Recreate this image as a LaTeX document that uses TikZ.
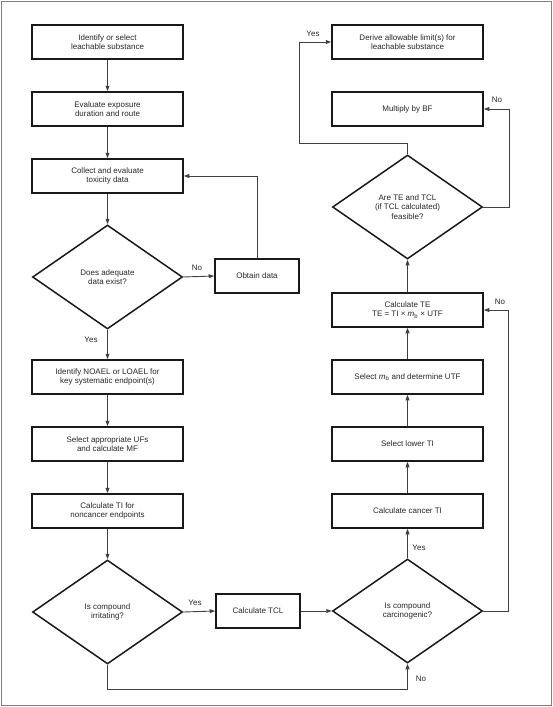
\documentclass[tikz,border=0pt]{standalone}
\usepackage{fontspec}
\setmainfont{Liberation Sans}
\usetikzlibrary{shapes.geometric,arrows.meta}
\newcommand{\mbsym}{\textit{m}\textsubscript{b}}
\begin{document}
\begin{tikzpicture}[x=1pt,y=-1pt,
  font=\fontsize{8}{9.4}\selectfont,
  stepbox/.style={draw=black!90,line width=1.5pt,rectangle,minimum width=151pt,minimum height=34pt,inner sep=1pt,align=center,text=black!85},
  smallbox/.style={stepbox,minimum width=84pt},
  decide/.style={draw=black!90,line width=1.5pt,diamond,minimum width=150pt,minimum height=104pt,inner sep=0pt,align=center,text=black!85},
  conn/.style={draw=black!75,line width=0.9pt,-{Triangle[length=5.5pt,width=3.8pt]}},
  lab/.style={font=\fontsize{8}{9}\selectfont,text=black!85,inner sep=0pt}]
\useasboundingbox (0,0) rectangle (553,707);
\draw[black!50,line width=1.5pt] (1.5,1.5) rectangle (551.5,705.5);
% left column
\node[stepbox] (b1) at (107.5,42) {Identify or select\\leachable substance};
\node[stepbox] (b2) at (107.5,109) {Evaluate exposure\\duration and route};
\node[stepbox] (b3) at (107.5,176) {Collect and evaluate\\toxicity data};
\node[decide] (d1) at (107.5,277) {Does adequate\\data exist?};
\node[smallbox] (ob) at (257,276) {Obtain data};
\node[stepbox] (b4) at (107.5,377) {Identify NOAEL or LOAEL for\\key systematic endpoint(s)};
\node[stepbox] (b5) at (107.5,444) {Select appropriate UFs\\and calculate MF};
\node[stepbox] (b6) at (107.5,511) {Calculate TI for\\noncancer endpoints};
\node[decide] (d2) at (107.5,612) {Is compound\\irritating?};
\node[smallbox] (tcl) at (258,611) {Calculate TCL};
% right column
\node[stepbox] (r1) at (407.5,42) {Derive allowable limit(s) for\\leachable substance};
\node[stepbox] (r2) at (407.5,109) {Multiply by BF};
\node[decide] (d4) at (407.5,207) {Are TE and TCL\\(if TCL calculated)\\feasible?};
\node[stepbox] (r3) at (407.5,310) {Calculate TE\\TE = TI × \mbsym{} × UTF};
\node[stepbox] (r4) at (407.5,377) {Select \mbsym{} and determine UTF};
\node[stepbox] (r5) at (407.5,444) {Select lower TI};
\node[stepbox] (r6) at (407.5,511) {Calculate cancer TI};
\node[decide] (d3) at (407.5,611) {Is compound\\carcinogenic?};
% helper coordinates
\coordinate (k1) at (107.5,689);
\coordinate (k2) at (508,611);
\coordinate (k3) at (509,207);
\coordinate (k4) at (407.5,143);
\coordinate (k5) at (299,143);
% connectors
\draw[conn] (b1) -- (b2);
\draw[conn] (b2) -- (b3);
\draw[conn] (b3) -- (d1);
\draw[conn] (d1.east) -- (ob.west);
\draw[conn] (ob.north) |- (b3.east);
\draw[conn] (d1.south) -- (b4.north);
\draw[conn] (b4) -- (b5);
\draw[conn] (b5) -- (b6);
\draw[conn] (b6) -- (d2.north);
\draw[conn] (d2.east) -- (tcl.west);
\draw[conn] (tcl.east) -- (d3.west);
\draw[conn] (d2.south) -- (k1) -| (d3.south);
\draw[conn] (d3.north) -- (r6.south);
\draw[conn] (r6) -- (r5);
\draw[conn] (r5) -- (r4);
\draw[conn] (r4) -- (r3);
\draw[conn] (r3) -- (d4.south);
\draw[conn] (d3.east) -- (k2) |- (r3.east);
\draw[conn] (d4.east) -- (k3) |- (r2.east);
\draw[conn] (d4.north) -- (k4) -- (k5) |- (r1.west);
% labels
\node[lab] (l1) at (197,268) {No};
\node[lab] (l2) at (91,340) {Yes};
\node[lab] (l3) at (195,603) {Yes};
\node[lab] (l4) at (421,679) {No};
\node[lab] (l5) at (419,548) {Yes};
\node[lab] (l6) at (500,302) {No};
\node[lab] (l7) at (497,100) {No};
\node[lab] (l8) at (313,34) {Yes};
\end{tikzpicture}
\end{document}
